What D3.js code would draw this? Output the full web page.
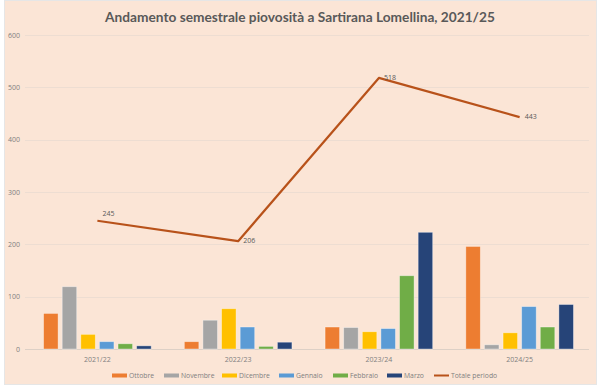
<!DOCTYPE html>
<html>
<head>
<meta charset="utf-8">
<script src="https://cdn.jsdelivr.net/npm/d3@7.9.0/dist/d3.min.js"></script>
<style>
  html, body { margin: 0; padding: 0; background: #fff; }
  svg { display: block; font-family: "Open Sans", "Liberation Sans", sans-serif; }
</style>
</head>
<body>
<svg id="chart" width="600" height="387"></svg>
<script>
// ====== Data ======
const periods = ['2021/22', '2022/23', '2023/24', '2024/25'];
const months = ['Ottobre', 'Novembre', 'Dicembre', 'Gennaio', 'Febbraio', 'Marzo'];
const ottobre  = [68, 14, 42, 196];
const novembre = [119, 55, 41, 8];
const dicembre = [28, 77, 33, 31];
const gennaio  = [14, 42, 39, 81];
const febbraio = [10, 5, 140, 42];
const marzo    = [6, 13, 223, 85];
const totale   = [245, 206, 518, 443];
const yTicks = [0, 100, 200, 300, 400, 500, 600];

const monthValues = [ottobre, novembre, dicembre, gennaio, febbraio, marzo];
const colors = ['#ED7D31', '#A5A5A5', '#FFC000', '#5B9BD5', '#70AD47', '#264478'];
const lineColor = '#B8521A';

// ====== Setup ======
const svg = d3.select('#chart');

// chart area background
svg.append('rect')
  .attr('x', 4.5).attr('y', 0.5)
  .attr('width', 592).attr('height', 384)
  .attr('fill', '#FBE5D6')
  .attr('stroke', '#E6E6E6');

const x = d3.scaleBand().domain(periods).range([27, 590]);
const y = d3.scaleLinear().domain([0, 600]).range([349, 35]);
const x1 = d3.scaleBand().domain(months).range([0, x.bandwidth()])
  .paddingInner(0.22).paddingOuter(0.89);

// ====== Title ======
const title = svg.append('text')
  .attr('x', 300).attr('y', 22)
  .attr('text-anchor', 'middle')
  .attr('font-family', 'Lato, "Open Sans", sans-serif')
  .attr('font-size', 15).attr('font-weight', 'bold')
  .attr('fill', '#595959')
  .text('Andamento semestrale piovosità a Sartirana Lomellina, 2021/25');
// shrink to the width the title takes in the original (~386px)
const tw = title.node().getComputedTextLength();
if (tw > 390) title.attr('font-size', 15 * 390 / tw);

// ====== Gridlines + y axis labels ======
svg.append('g').selectAll('line')
  .data(yTicks)
  .join('line')
  .attr('x1', 25).attr('x2', 589)
  .attr('y1', d => Math.round(y(d)) + 0.5)
  .attr('y2', d => Math.round(y(d)) + 0.5)
  .attr('stroke', d => d === 0 ? '#DDD0C6' : '#EDDDD2')
  .attr('stroke-width', 1);

svg.append('g').selectAll('text')
  .data(yTicks)
  .join('text')
  .attr('x', 20).attr('y', d => y(d) + 2.5)
  .attr('text-anchor', 'end')
  .attr('font-size', 7).attr('fill', '#7F7F7F')
  .text(d => d);

// ====== Bars ======
const groups = svg.append('g').selectAll('g')
  .data(periods)
  .join('g')
  .attr('transform', d => `translate(${x(d)},0)`);

groups.selectAll('rect')
  .data((p, pi) => months.map((m, mi) => ({ m, mi, v: monthValues[mi][pi] })))
  .join('rect')
  .attr('x', d => x1(d.m))
  .attr('y', d => y(d.v))
  .attr('width', x1.bandwidth())
  .attr('height', d => y(0) - y(d.v))
  .attr('fill', d => colors[d.mi])
  .attr('stroke', 'rgba(255,255,255,0.45)')
  .attr('stroke-width', 0.8);

// ====== Category labels ======
svg.append('g').selectAll('text')
  .data(periods)
  .join('text')
  .attr('x', d => x(d) + x.bandwidth() / 2)
  .attr('y', 362)
  .attr('text-anchor', 'middle')
  .attr('font-size', 7).attr('fill', '#7F7F7F')
  .text(d => d);

// ====== Totale line ======
const line = d3.line()
  .x((d, i) => x(periods[i]) + x.bandwidth() / 2)
  .y(d => y(d));

svg.append('path')
  .datum(totale)
  .attr('d', line)
  .attr('fill', 'none')
  .attr('stroke', lineColor)
  .attr('stroke-width', 2.2)
  .attr('stroke-linejoin', 'round');

svg.append('g').selectAll('text')
  .data(totale)
  .join('text')
  .attr('x', (d, i) => x(periods[i]) + x.bandwidth() / 2 + 5)
  .attr('y', (d, i) => y(d) + (i === 0 ? -5 : 2))
  .attr('font-size', 7).attr('fill', '#595959')
  .text(d => d);

// ====== Legend ======
const legendItems = months.map((m, i) => ({ label: m, color: colors[i], line: false }))
  .concat([{ label: 'Totale periodo', color: lineColor, line: true }]);
const legendX = [112, 164, 222, 279, 333, 387, 434];

const legend = svg.append('g').attr('transform', 'translate(0,378)');
legendItems.forEach((d, i) => {
  const g = legend.append('g').attr('transform', `translate(${legendX[i]},0)`);
  if (d.line) {
    g.append('line').attr('x1', 0).attr('x2', 15).attr('y1', -2.5).attr('y2', -2.5)
      .attr('stroke', d.color).attr('stroke-width', 2);
  } else {
    g.append('rect').attr('x', 0).attr('y', -4.5).attr('width', 15).attr('height', 4)
      .attr('fill', d.color);
  }
  g.append('text').attr('x', 17).attr('y', 0)
    .attr('font-size', 6.8).attr('fill', '#7F7F7F').text(d.label);
});
</script>
</body>
</html>
